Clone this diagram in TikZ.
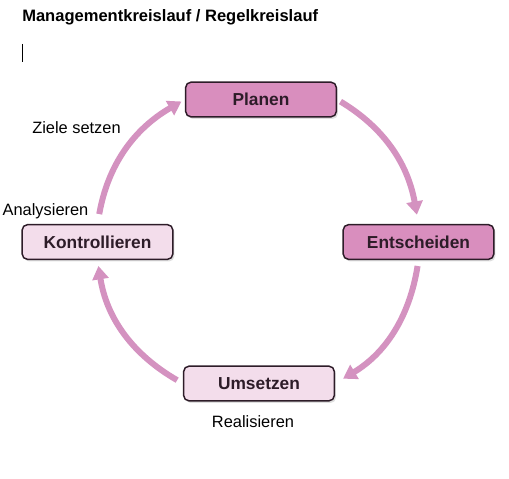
\documentclass[tikz,border=0pt]{standalone}
\usepackage{fontspec}
\setmainfont{Liberation Sans}
\usetikzlibrary{arrows.meta, positioning, shadows}

\definecolor{rosadunkel}{RGB}{217,142,190}
\definecolor{rosahell}{RGB}{243,221,235}
\definecolor{pfeilrosa}{RGB}{212,146,192}
\definecolor{rahmen}{RGB}{45,28,40}

\begin{document}
\begin{tikzpicture}[
  x=0.75pt, y=0.75pt,
  phase/.style={
    draw=rahmen,
    line width=1.1pt,
    rounded corners=4pt,
    minimum width=113pt,
    minimum height=26pt,
    inner sep=2pt,
    font=\fontsize{13}{15}\selectfont\bfseries,
    text=rahmen,
    drop shadow={shadow xshift=1.2pt, shadow yshift=-1.6pt, opacity=0.25}
  },
  dunkel/.style={phase, fill=rosadunkel},
  hell/.style={phase, fill=rosahell},
  pfeil/.style={
    -{Triangle[length=10pt, width=12pt]},
    line width=4.5pt,
    draw=pfeilrosa
  },
  notiz/.style={
    font=\fontsize{12.3}{14}\selectfont,
    inner sep=0pt
  }
]
  \useasboundingbox (0,0) rectangle (509,478);

  \node[anchor=base west, inner sep=0pt, font=\fontsize{12.4}{14}\selectfont\bfseries]
    (titel) at (22,456) {Managementkreislauf / Regelkreislauf};
  \draw[line width=0.6pt] (22,434) -- (22,416);

  \node[dunkel] (planen) at (261,378.5) {Planen};
  \node[dunkel] (entscheiden) at (418.5,236) {Entscheiden};
  \node[hell] (umsetzen) at (259,94.5) {Umsetzen};
  \node[hell] (kontrollieren) at (97.5,236) {Kontrollieren};

  \draw[pfeil, shorten <=3pt, shorten >=7pt] (planen.east) to[out=-31, in=100] (entscheiden.north);
  \draw[pfeil, shorten <=4.5pt, shorten >=7pt] (entscheiden.south) to[out=-99, in=31] (umsetzen.east);
  \draw[pfeil, shorten <=5pt, shorten >=4.5pt] (umsetzen.west) to[out=150, in=-81] (kontrollieren.south);
  \draw[pfeil, shorten <=7.5pt, shorten >=3pt] (kontrollieren.north) to[out=80, in=-150] (planen.west);

  \node[notiz] (ziele) at (76.5,350) {Ziele setzen};
  \node[notiz] (analyse) at (45.5,267) {Analysieren};
  \node[notiz] (real) at (253,56) {Realisieren};
\end{tikzpicture}
\end{document}
